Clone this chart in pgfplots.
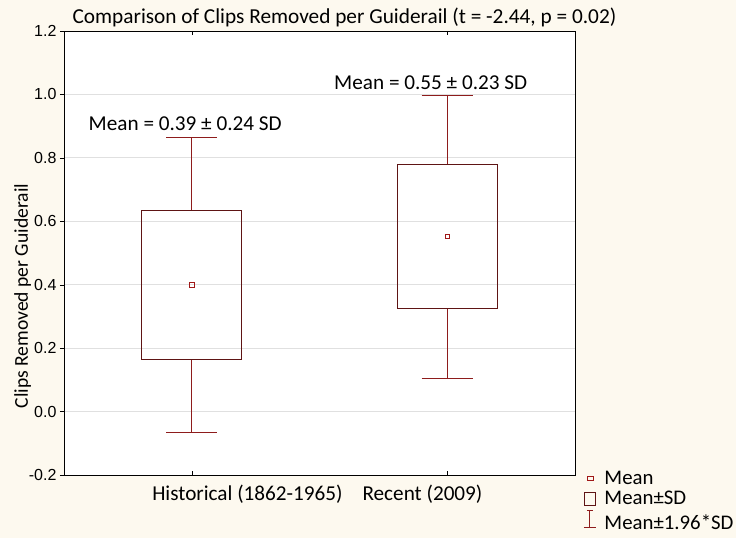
\documentclass[border=0pt]{standalone}
\usepackage{fontspec}
\setmainfont{Carlito}
\newfontfamily\arialfont{Liberation Sans}
\usepackage{pgfplots}
\pgfplotsset{compat=1.18}
\usepgfplotslibrary{statistics}
\definecolor{bg}{HTML}{FDF9EF}
\definecolor{boxc}{HTML}{5E1414}
\definecolor{whc}{HTML}{8E1C1C}
\definecolor{meanc}{HTML}{A01818}
\begin{document}
\begin{tikzpicture}
\path[fill=bg, use as bounding box] (-64bp,-63bp) rectangle (672bp,475bp);
\begin{axis}[
  scale only axis,
  width=511bp, height=444bp,
  axis background/.style={fill=white},
  xmin=-0.5, xmax=1.5,
  ymin=-0.2, ymax=1.2,
  xtick={0,1},
  xticklabels={},
  extra x ticks={0.218,0.903},
  extra x tick labels={Historical (1862-1965), Recent (2009)},
  extra x tick style={major tick length=0pt, xticklabel style={font=\fontsize{21.2bp}{22bp}\selectfont, anchor=base, yshift=-25bp}},
  major tick length=4bp,
  x tick style={draw=black},
  xtick align=inside,
  xtick pos=both,
  ytick={-0.2,0,0.2,...,1.2},
  ytick pos=left,
  ytick align=outside,
  y tick style={draw=black},
  yticklabel style={font=\arialfont\fontsize{16bp}{18bp}\selectfont, /pgf/number format/.cd, fixed, fixed zerofill, precision=1, assume math mode=true},
  ymajorgrids,
  grid style={draw=black!12, line width=0.8bp},
  axis line style={draw=black, line width=0.8bp},
  ylabel={Clips Removed per Guiderail},
  ylabel style={font=\fontsize{19.6bp}{21bp}\selectfont, at={(ticklabel cs:0.403)}, yshift=-9bp},
  title={Comparison of Clips Removed per Guiderail (t = -2.44, p = 0.02)},
  title style={font=\fontsize{21.3bp}{22bp}\selectfont, at={(0.5,1)}, anchor=base, yshift=2bp, xshift=25bp},
  boxplot/draw direction=y,
  /pgfplots/boxplot/draw/median/.code={},
  legend style={at={(1.0166,0.0106)}, anchor=north west, draw=none, fill=none,
    inner sep=0pt, outer sep=0pt,
    font=\fontsize{20.8bp}{21bp}\selectfont, row sep=2bp,
    nodes={inner sep=0pt, text height=14bp, text depth=4bp},
    /tikz/every odd column/.append style={column sep=8bp}},
  legend cell align=left,
  clip=false,
]
\addplot+[forget plot, mark=none, boxplot prepared={lower whisker=-0.065, lower quartile=0.165, median=0.40, upper quartile=0.635, upper whisker=0.865, draw position=0, box extend=0.39, whisker extend=0.2},
  draw=boxc, line width=0.9bp, solid,
  boxplot/every whisker/.style={draw=whc, line width=1.1bp},
  boxplot/every box/.style={draw=boxc, line width=0.9bp}] coordinates {};
\addplot+[forget plot, mark=none, boxplot prepared={lower whisker=0.105, lower quartile=0.325, median=0.553, upper quartile=0.778, upper whisker=0.997, draw position=1, box extend=0.39, whisker extend=0.2},
  draw=boxc, line width=0.9bp, solid,
  boxplot/every whisker/.style={draw=whc, line width=1.1bp},
  boxplot/every box/.style={draw=boxc, line width=0.9bp}] coordinates {};
\addplot[only marks, mark=square, mark size=2.2bp, draw=meanc, line width=0.8bp, forget plot] coordinates {(0,0.40) (1,0.553)};
\node[anchor=base, font=\fontsize{21.2bp}{22bp}\selectfont, xshift=-6.5bp] at (axis cs:0,0.887) {Mean = 0.39 ± 0.24 SD};
\node[anchor=base, font=\fontsize{21.2bp}{22bp}\selectfont, xshift=-16.5bp] at (axis cs:1,1.016) {Mean = 0.55 ± 0.23 SD};
\addlegendimage{legend image code/.code={\draw[meanc, line width=0.8bp] (3.3bp,-1.4bp) rectangle (9.3bp,3.3bp); \path[draw=none] (0bp,0bp) rectangle (11.7bp,0.1bp);}}
\addlegendentry{Mean}
\addlegendimage{legend image code/.code={\draw[boxc, line width=0.9bp] (0.3bp,-5.7bp) rectangle (11.7bp,6.6bp);}}
\addlegendentry{Mean±SD}
\addlegendimage{legend image code/.code={\draw[whc, line width=1bp] (0bp,-2.3bp) -- (12bp,-2.3bp) (6bp,-2.3bp) -- (6bp,14bp) (3bp,14bp) -- (9bp,14bp);}}
\addlegendentry{Mean±1.96*SD}
\end{axis}
\end{tikzpicture}
\end{document}
